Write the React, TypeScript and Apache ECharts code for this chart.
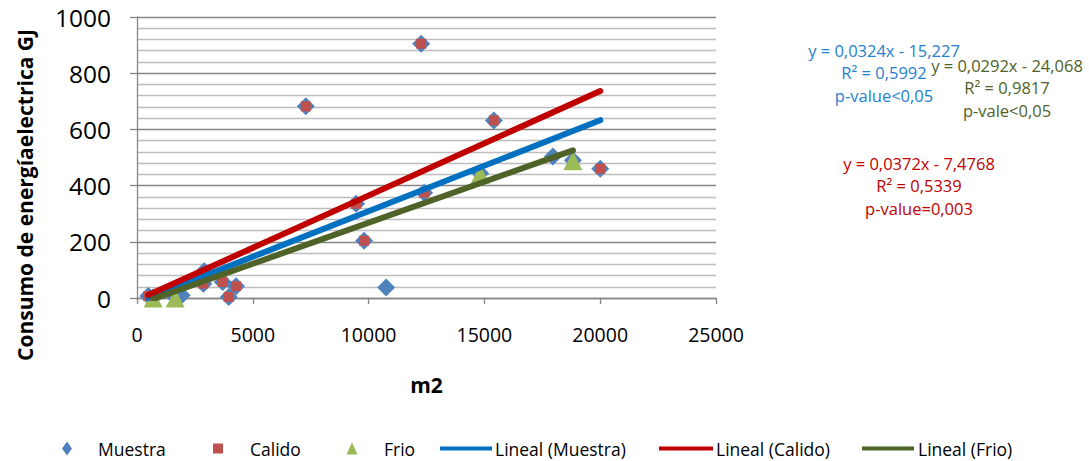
import React, { useEffect, useRef } from "react";
import * as echarts from "echarts";

// Floor area (m2) vs. electricity consumption (GJ)
const muestra: [number, number][] = [
  [488, 7], [700, 2], [1650, 3], [1931, 10], [2865, 51], [2900, 95],
  [3702, 57], [3961, 4], [4277, 42], [7288, 682], [9461, 335], [9806, 204],
  [10757, 37], [12270, 905], [12398, 375], [14818, 444], [15409, 632],
  [17958, 504], [18822, 490], [20002, 460],
];
const calido: [number, number][] = [
  [488, 7], [2865, 51], [3702, 57], [3961, 4], [4277, 42], [7288, 682],
  [9461, 335], [9806, 204], [12270, 905], [12398, 375], [15409, 632], [20002, 460],
];
const frio: [number, number][] = [
  [700, 0], [1650, 0], [14818, 440], [18822, 488],
];

// Linear fits as stated in the annotations
const fitMuestra = { slope: 0.0324, intercept: -15.227 };
const fitCalido = { slope: 0.0372, intercept: -7.4768 };
const fitFrio = { slope: 0.0292, intercept: -24.068 };

const eqMuestra = ["y = 0,0324x - 15,227", "R² = 0,5992", "p-value<0,05"];
const eqFrio = ["y = 0,0292x - 24,068", "R² = 0,9817", "p-vale<0,05"];
const eqCalido = ["y = 0,0372x - 7,4768", "R² = 0,5339", "p-value=0,003"];

const yTitle = "Consumo de energíaelectrica GJ";
const xTitle = "m2";
const legendNames = ["Muestra", "Calido", "Frio", "Lineal (Muestra)", "Lineal (Calido)", "Lineal (Frio)"];

const xMin = 0, xMax = 25000, xStep = 5000;
const yMin = 0, yMax = 1000, yStep = 200;

const FONT = '"Open Sans", "Noto Sans", sans-serif';
const C_DIAMOND = "#4F81BD";
const C_SQUARE = "#C0504D";
const C_TRI = "#9BBB59";
const C_BLUE = "#0070C0";
const C_RED = "#C00000";
const C_GREEN = "#4F6228";

function fitLine(points: [number, number][], fit: { slope: number; intercept: number }) {
  const xs = points.map((p) => p[0]);
  const lo = Math.min(...xs);
  const hi = Math.max(...xs);
  return [lo, hi].map((x) => [x, fit.slope * x + fit.intercept]);
}

function label(text: string, x: number, y: number, color: string, size: number, align = "center", extra: any = {}) {
  return {
    type: "text",
    x,
    y,
    silent: true,
    ...extra,
    style: {
      text,
      fill: color,
      fontFamily: FONT,
      fontSize: size,
      fontWeight: extra.bold ? "bold" : "normal",
      align,
      textAlign: align,
      verticalAlign: "middle",
      textVerticalAlign: "middle",
    },
  };
}

function eqBlock(lines: string[], cx: number, top: number, color: string) {
  return lines.map((t, i) => label(t, cx, top + i * 22.5, color, 16.5));
}

// Legend row along the bottom edge
function legendGraphics() {
  const y = 448.5;
  const els: any[] = [];
  els.push({
    type: "polygon",
    silent: true,
    shape: { points: [[67, y - 7], [72, y], [67, y + 7], [62, y]] },
    style: { fill: C_DIAMOND },
  });
  els.push({ type: "rect", silent: true, shape: { x: 213, y: y - 5, width: 10, height: 10 }, style: { fill: C_SQUARE } });
  els.push({
    type: "polygon",
    silent: true,
    shape: { points: [[352, y - 6], [357.5, y + 6], [346.5, y + 6]] },
    style: { fill: C_TRI },
  });
  const lines: [number, number, string][] = [[440, 492, C_BLUE], [659, 713, C_RED], [862, 914, C_GREEN]];
  lines.forEach(([a, b, c]) =>
    els.push({ type: "line", silent: true, shape: { x1: a, y1: y, x2: b, y2: y }, style: { stroke: c, lineWidth: 4 } })
  );
  const textX = [98, 250, 384, 495, 716, 918];
  legendNames.forEach((n, i) => els.push(label(n, textX[i], y, "#000", 17.5, "left")));
  return els;
}

export default function App() {
  const ref = useRef<HTMLDivElement>(null);

  useEffect(() => {
    if (!ref.current) return;
    const chart = echarts.init(ref.current, undefined, { renderer: "svg" });
    const gridColor = "#868686";
    chart.setOption({
      animation: false,
      backgroundColor: "#fff",
      grid: { left: 137, right: 373, top: 17, bottom: 163, containLabel: false },
      xAxis: {
        type: "value",
        min: xMin,
        max: xMax,
        interval: xStep,
        name: xTitle,
        nameLocation: "middle",
        nameGap: 76,
        nameTextStyle: { fontFamily: FONT, fontSize: 21, fontWeight: "bold", color: "#000" },
        axisLine: { show: true, onZero: false, lineStyle: { color: gridColor, width: 1.3 } },
        axisTick: { show: true, inside: false, length: 6, lineStyle: { color: gridColor, width: 1.3 } },
        axisLabel: {
          fontFamily: FONT,
          fontSize: 19.5,
          color: "#000",
          margin: 26,
          formatter: (v: number) => String(v),
        },
        splitLine: { show: false },
      },
      yAxis: {
        type: "value",
        min: yMin,
        max: yMax,
        interval: yStep,
        axisLine: { show: true, lineStyle: { color: gridColor, width: 1.3 } },
        axisTick: { show: true, inside: false, length: 7, lineStyle: { color: gridColor, width: 1.3 } },
        axisLabel: {
          fontFamily: FONT,
          fontSize: 24.5,
          color: "#000",
          margin: 26,
          formatter: (v: number) => String(v),
        },
        splitLine: { show: true, lineStyle: { color: gridColor, width: 1.3 } },
        minorTick: { show: false, splitNumber: 5 },
        minorSplitLine: { show: true, lineStyle: { color: "#BDBDBD", width: 1.3 } },
      },
      series: [
        {
          name: "Muestra",
          type: "scatter",
          data: muestra,
          symbol: "diamond",
          symbolSize: 18,
          clip: false,
          itemStyle: { color: C_DIAMOND, opacity: 1 },
        },
        {
          name: "Calido",
          type: "scatter",
          data: calido,
          symbol: "rect",
          symbolSize: 10,
          clip: false,
          itemStyle: { color: C_SQUARE, opacity: 1 },
        },
        {
          name: "Frio",
          type: "scatter",
          data: frio,
          symbol: "triangle",
          symbolSize: 19,
          clip: false,
          itemStyle: { color: C_TRI, opacity: 1 },
        },
        {
          name: "Lineal (Muestra)",
          type: "line",
          data: fitLine(muestra, fitMuestra),
          symbol: "none",
          color: C_BLUE,
          lineStyle: { color: C_BLUE, width: 6, cap: "round" },
        },
        {
          name: "Lineal (Calido)",
          type: "line",
          data: fitLine(calido, fitCalido),
          symbol: "none",
          color: C_RED,
          lineStyle: { color: C_RED, width: 6, cap: "round" },
        },
        {
          name: "Lineal (Frio)",
          type: "line",
          data: fitLine(frio, fitFrio),
          symbol: "none",
          color: C_GREEN,
          lineStyle: { color: C_GREEN, width: 6, cap: "round" },
        },
      ],
      graphic: [
        label(yTitle, 25, 195, "#000", 21, "center", { rotation: Math.PI / 2, bold: true }),
        ...eqBlock(eqMuestra, 884, 50, "#1F7FD0"),
        ...eqBlock(eqFrio, 1007, 65, C_GREEN),
        ...eqBlock(eqCalido, 919, 163, C_RED),
        ...legendGraphics(),
      ],
    });
    return () => chart.dispose();
  }, []);

  return (
    <div
      ref={ref}
      style={{ position: "fixed", left: 0, top: 0, width: 1089, height: 461, background: "#fff" }}
    />
  );
}
